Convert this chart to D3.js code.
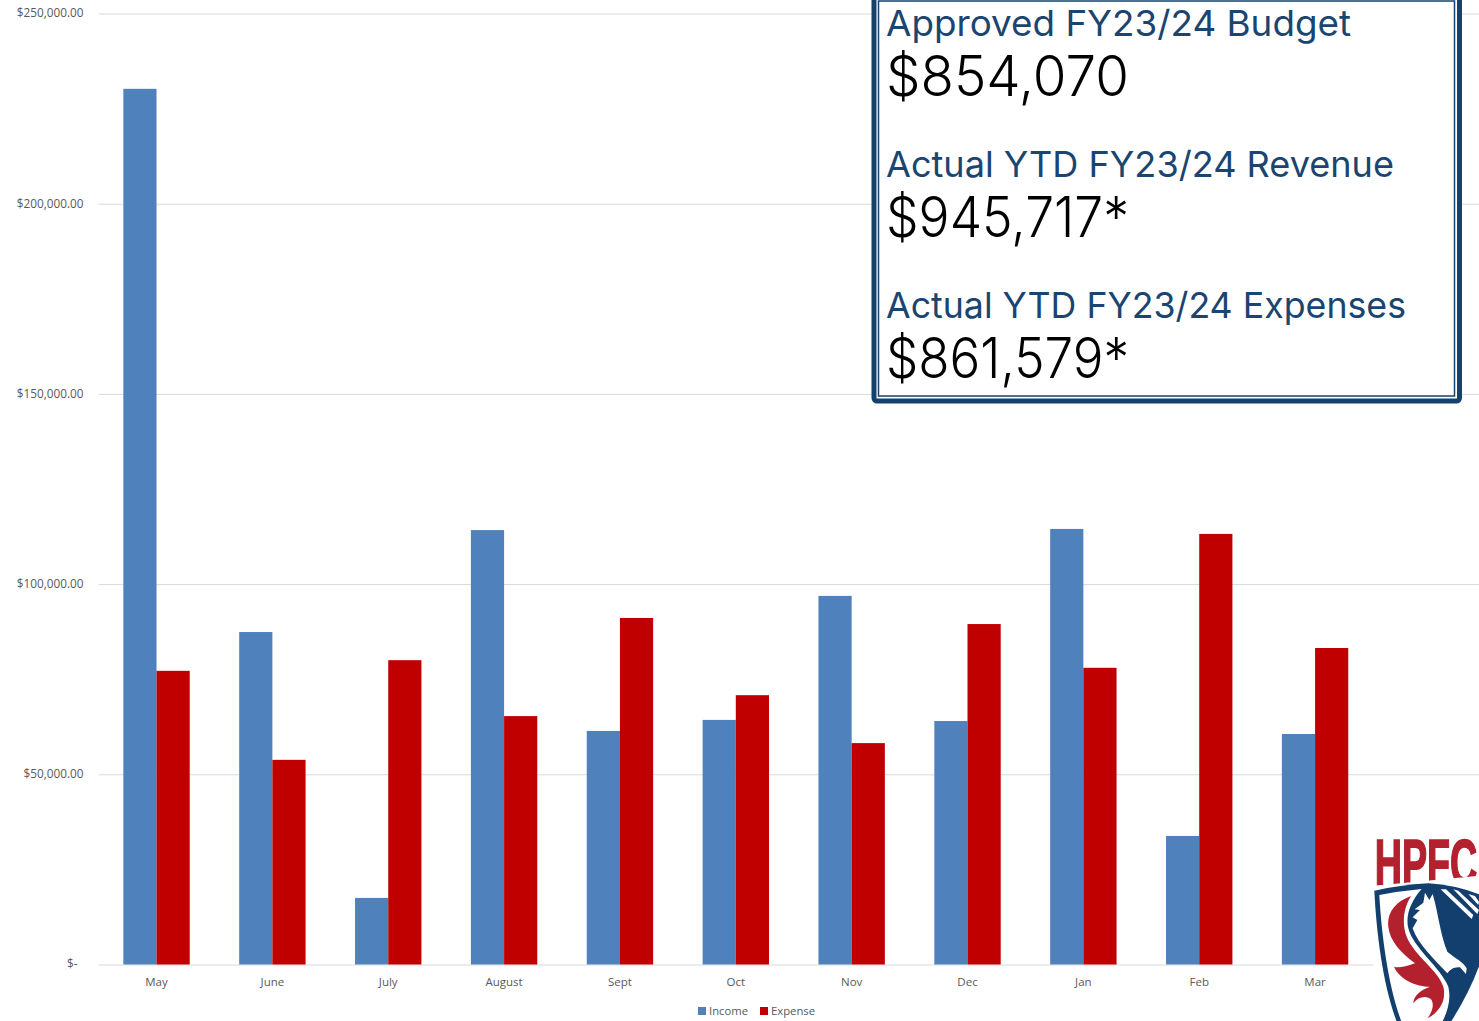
<!DOCTYPE html>
<html>
<head>
<meta charset="utf-8">
<style>
  html, body { margin: 0; padding: 0; background: #fff; overflow: hidden; }
  .axis text { font-family: "Open Sans", "Noto Sans", sans-serif; font-size: 11.5px; fill: #595959; }
  .y-axis text { font-size: 11.8px; }
  .legend text { font-family: "Open Sans", "Noto Sans", sans-serif; font-size: 11.3px; fill: #595959; }
</style>
<script src="https://cdn.jsdelivr.net/npm/d3@7"></script>
</head>
<body>
<div id="container"></div>
<script>
const months = ['May', 'June', 'July', 'August', 'Sept', 'Oct', 'Nov', 'Dec', 'Jan', 'Feb', 'Mar']
const income = [230200, 87400, 17500, 114200, 61400, 64300, 96900, 64000, 114500, 33800, 60600]
const expense = [77200, 53800, 80000, 65300, 91100, 70800, 58200, 89500, 78000, 113200, 83200]
const seriesNames = ['Income', 'Expense']
const seriesColors = ['#4f81bd', '#c00000']
const yTicks = [0, 50000, 100000, 150000, 200000, 250000]
const panelLabels = ['Approved FY23/24 Budget', 'Actual YTD FY23/24 Revenue', 'Actual YTD FY23/24 Expenses']
const panelValues = ['$854,070', '$945,717*', '$861,579*']

const width = 1479
const height = 1021
const svg = d3.select('#container').append('svg')
    .attr('width', width).attr('height', height)
    .style('display', 'block').style('background', '#fff')

const plot = { left: 98.6, right: 1373, top: 13.5, bottom: 964.5 }

const yScale = d3.scaleLinear().domain([0, 250000]).range([plot.bottom, plot.top])
const xScale = d3.scaleBand().domain(months).range([plot.left, plot.right])
    .paddingInner(0.427).paddingOuter(0.2135)
const seriesScale = d3.scaleBand().domain(seriesNames).range([0, xScale.bandwidth()])

// gridlines + y labels
const moneyFormat = d3.format('$,.2f')
const yAxis = d3.axisLeft(yScale)
    .tickValues(yTicks)
    .tickSize(-(width - plot.left))
    .tickPadding(15)
    .tickFormat(d => d === 0 ? '$-' : moneyFormat(d))
const yG = svg.append('g').attr('class', 'axis y-axis')
    .attr('transform', `translate(${plot.left}, 0)`)
    .call(yAxis)
yG.select('.domain').remove()
yG.selectAll('line').attr('stroke', '#d9d9d9')
yG.selectAll('text').attr('dy', '0.28em')
yG.selectAll('.tick').filter(d => d === 0).select('text').attr('dx', -6)

// x labels
const xAxis = d3.axisBottom(xScale).tickSize(0).tickPadding(13)
const xG = svg.append('g').attr('class', 'axis')
    .attr('transform', `translate(0, ${plot.bottom})`)
    .call(xAxis)
xG.select('.domain').remove()

// bars
const seriesValues = [income, expense]
seriesNames.forEach((name, s) => {
    svg.append('g').selectAll('rect').data(months).enter().append('rect')
        .attr('x', d => xScale(d) + seriesScale(name))
        .attr('y', (d, i) => yScale(seriesValues[s][i]))
        .attr('width', seriesScale.bandwidth())
        .attr('height', (d, i) => plot.bottom - yScale(seriesValues[s][i]))
        .attr('fill', seriesColors[s])
})

// legend
const legend = svg.append('g').attr('class', 'legend')
const legendX = [698, 760]
seriesNames.forEach((name, i) => {
    legend.append('rect').attr('x', legendX[i]).attr('y', 1007).attr('width', 8).attr('height', 8).attr('fill', seriesColors[i])
    legend.append('text').attr('x', legendX[i] + 11).attr('y', 1015).text(name)
})

// summary box
const navy = '#14416d'
svg.append('rect').attr('x', 874).attr('y', -10).attr('width', 585.5).attr('height', 411)
    .attr('rx', 3).attr('fill', '#fff').attr('stroke', navy).attr('stroke-width', 5)
svg.append('rect').attr('x', 878.5).attr('y', 1).attr('width', 576).attr('height', 395)
    .attr('fill', 'none').attr('stroke', navy).attr('stroke-width', 1.5)

const labelWidths = [465, 508, 520]
const box = svg.append('g').style('font-family', 'Inter, "Open Sans", sans-serif')
panelLabels.forEach((label, i) => {
    box.append('text').attr('x', 886).attr('y', 36 + i * 141)
        .attr('font-size', 36).attr('font-weight', 400).attr('fill', '#1a4571')
        .attr('textLength', labelWidths[i]).attr('lengthAdjust', 'spacingAndGlyphs')
        .text(label)
    box.append('text').attr('x', 886).attr('y', 96 + i * 141)
        .attr('font-size', 56).attr('font-weight', 300).attr('fill', '#000')
        .attr('textLength', 243).attr('lengthAdjust', 'spacingAndGlyphs')
        .text(panelValues[i])
})

// logo, drawn in the coordinates of a 3x crop
const defs = svg.append('defs')
defs.append('clipPath').attr('id', 'hpfc-clip').append('path')
    .attr('d', 'M95,40 L430,40 L430,166 L95,198 Z')
const logo = svg.append('g').attr('transform', 'translate(1340, 820) scale(0.3333)')
logo.append('rect').attr('x', 100).attr('y', 25).attr('width', 325).attr('height', 580).attr('fill', '#fff')
const hpfc = logo.append('g').attr('clip-path', 'url(#hpfc-clip)').append('text')
    .attr('font-family', '"Liberation Sans Narrow", "Liberation Sans", sans-serif')
    .attr('font-weight', 700).attr('font-size', 196).attr('fill', '#b3202e')
    .attr('stroke', '#b3202e').attr('stroke-width', 5)
    .text('HPFC')
// squeeze the word into the logo width
const hpfcScale = 308 / hpfc.node().getComputedTextLength()
hpfc.attr('transform', `translate(104, 196) scale(${hpfcScale}, 1)`)
const logoShapes = [
    ['M103,212 Q180,195 265,190 Q350,195 430,228 L430,400 Q400,500 330,610 L172,610 C130,500 110,350 103,212 Z', '#123f6d'],
    ['M118,225 Q180,213 245,207 C215,240 195,285 205,325 C220,385 300,440 325,500 C335,540 320,580 305,610 L186,610 C145,500 125,350 118,225 Z', '#fff'],
    ['M213,228 C165,245 140,280 145,320 C150,365 185,400 225,430 C195,440 175,445 162,440 C180,480 230,500 270,500 C240,510 220,530 220,550 C235,530 260,525 275,540 C285,560 270,585 262,595 C300,575 320,540 310,500 C295,450 225,410 200,350 C185,310 190,265 213,228 Z', '#b3202e'],
    ['M255,218 L268,240 L278,222 C295,280 300,340 322,395 C345,415 370,425 380,445 L378,462 L360,442 C340,440 330,450 322,460 C285,420 235,375 218,325 L232,300 L218,292 L240,270 L224,268 L250,248 Z', '#fff'],
    ['M302,208 L318,208 L400,285 L395,297 Z', '#fff'],
    ['M340,208 L355,212 L417,270 L412,282 Z', '#fff'],
    ['M385,222 L405,228 L417,245 L415,255 Z', '#fff']
]
logo.selectAll('path.shape').data(logoShapes).enter().append('path')
    .attr('class', 'shape')
    .attr('d', d => d[0])
    .attr('fill', d => d[1])
</script>
</body>
</html>
